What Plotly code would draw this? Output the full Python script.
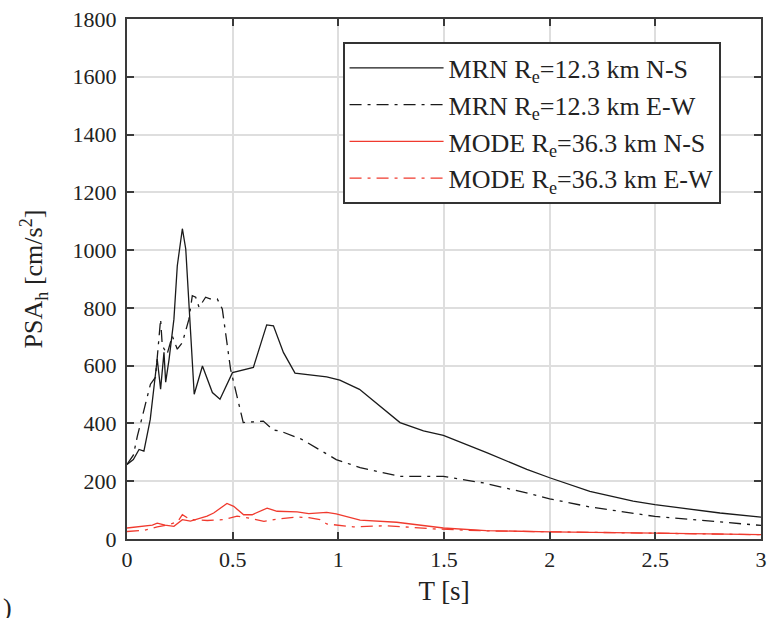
import plotly.graph_objects as go

# MRN Re=12.3 km N-S
mrn_ns_T = [0.0, 0.03, 0.057, 0.08, 0.11, 0.143, 0.159, 0.175, 0.183, 0.199, 0.222, 0.238, 0.262,
            0.278, 0.318, 0.357, 0.404, 0.44, 0.499, 0.55, 0.598, 0.661, 0.693, 0.74, 0.795, 0.945,
            1.007, 1.1, 1.197, 1.292, 1.403, 1.497, 1.702, 1.892, 2.0, 2.19, 2.395, 2.498, 2.806, 3.0]
mrn_ns_v = [258, 275, 310, 304, 414, 623, 519, 646, 543, 622, 761, 946, 1074,
            1004, 501, 599, 507, 484, 576, 584, 594, 741, 738, 646, 574, 561,
            550, 518, 460, 403, 374, 359, 299, 241, 212, 165, 131, 119, 90, 76]

# MRN Re=12.3 km E-W
mrn_ew_T = [0.0, 0.03, 0.049, 0.07, 0.096, 0.111, 0.135, 0.159, 0.167, 0.19, 0.214, 0.238, 0.262,
            0.293, 0.309, 0.325, 0.341, 0.372, 0.393, 0.427, 0.451, 0.49, 0.55, 0.645, 0.693,
            0.724, 0.827, 0.99, 1.103, 1.292, 1.497, 1.687, 1.86, 2.0, 2.19, 2.498, 3.0]
mrn_ew_v = [258, 290, 356, 420, 501, 536, 560, 761, 669, 640, 703, 657, 680,
            761, 842, 837, 802, 837, 831, 831, 796, 588, 403, 408, 377,
            374, 345, 275, 247, 217, 217, 194, 165, 139, 111, 78, 47]

# MODE Re=36.3 km N-S
mode_ns_T = [0.0, 0.08, 0.12, 0.143, 0.18, 0.222, 0.262, 0.3, 0.379, 0.41, 0.473, 0.505, 0.552,
             0.592, 0.663, 0.71, 0.805, 0.86, 0.945, 0.99, 1.103, 1.276, 1.497, 1.7, 1.86,
             2.0, 2.5, 3.0]
mode_ns_v = [38, 44, 48, 55, 48, 44, 67, 62, 79, 90, 123, 113, 84,
             84, 107, 96, 94, 88, 92, 87, 65, 58, 38, 29, 26,
             25, 20, 15]

# MODE Re=36.3 km E-W
mode_ew_T = [0.0, 0.08, 0.143, 0.2, 0.24, 0.262, 0.3, 0.38, 0.458, 0.521, 0.58, 0.648, 0.72,
             0.805, 0.86, 0.913, 0.945, 1.07, 1.228, 1.45, 1.7, 2.0, 2.5, 3.0]
mode_ew_v = [26, 30, 42, 50, 60, 84, 67, 64, 67, 79, 72, 61, 70,
             76, 74, 67, 52, 42, 46, 35, 28, 25, 20, 15]

x_ticks = [0, 0.5, 1, 1.5, 2, 2.5, 3]
x_tick_labels = ["0", "0.5", "1", "1.5", "2", "2.5", "3"]
y_ticks = [0, 200, 400, 600, 800, 1000, 1200, 1400, 1600, 1800]

names = ["MRN R<sub>e</sub>=12.3 km N-S", "MRN R<sub>e</sub>=12.3 km E-W",
         "MODE R<sub>e</sub>=36.3 km N-S", "MODE R<sub>e</sub>=36.3 km E-W"]

SERIF = "Liberation Serif, Times New Roman, serif"
DASHDOT = "12px,6px,3px,6px"
BLACK = "#1a1a1a"
RED = "#f03a2e"

fig = go.Figure()
series = [(mrn_ns_T, mrn_ns_v, BLACK, "solid"), (mrn_ew_T, mrn_ew_v, BLACK, DASHDOT),
          (mode_ns_T, mode_ns_v, RED, "solid"), (mode_ew_T, mode_ew_v, RED, DASHDOT)]
for i, (xs, ys, col, dash) in enumerate(series):
    fig.add_trace(go.Scatter(x=xs, y=ys, mode="lines", name=names[i], legendgroup=f"g{i}",
                             line=dict(color=col, width=1.3, dash=dash)))

axis_common = dict(
    showline=True, linecolor="#3a3a3a", linewidth=2, mirror="ticks",
    ticks="inside", ticklen=7, tickwidth=2, tickcolor="#3a3a3a",
    showgrid=True, gridcolor="#dedede", gridwidth=2, zeroline=False,
    automargin=False,
    tickfont=dict(family=SERIF, size=22, color="#222"),
)

fig.update_xaxes(range=[0, 3], tickvals=x_ticks, ticktext=x_tick_labels,
                 title=dict(text="T [s]", font=dict(family=SERIF, size=27, color="#222"),
                            standoff=10),
                 **axis_common)
fig.update_yaxes(range=[0, 1800], tickvals=y_ticks, ticklabelstandoff=4,
                 title=dict(text="PSA<sub>h</sub> [cm/s<sup>2</sup>]",
                            font=dict(family=SERIF, size=26, color="#222"), standoff=22),
                 **axis_common)

fig.update_layout(
    width=768, height=618,
    margin=dict(l=127, r=7, t=19, b=79, autoexpand=False),
    paper_bgcolor="white", plot_bgcolor="white",
    font=dict(family=SERIF, color="#222"),
    showlegend=True,
    legend=dict(x=0.34, y=0.955, xanchor="left", yanchor="top",
                bgcolor="white", bordercolor="#333", borderwidth=2,
                font=dict(family=SERIF, size=26, color="#222"),
                itemwidth=94, tracegroupgap=0),
    annotations=[dict(text=")", xref="paper", yref="paper", x=0, y=0,
                      xshift=-126, yshift=-68, xanchor="left", yanchor="middle",
                      showarrow=False, font=dict(family=SERIF, size=26, color="#222"))],
)

fig.write_html("out.html", config={"displayModeBar": False},
               post_script="document.body.style.margin='0';document.body.style.padding='0';")
